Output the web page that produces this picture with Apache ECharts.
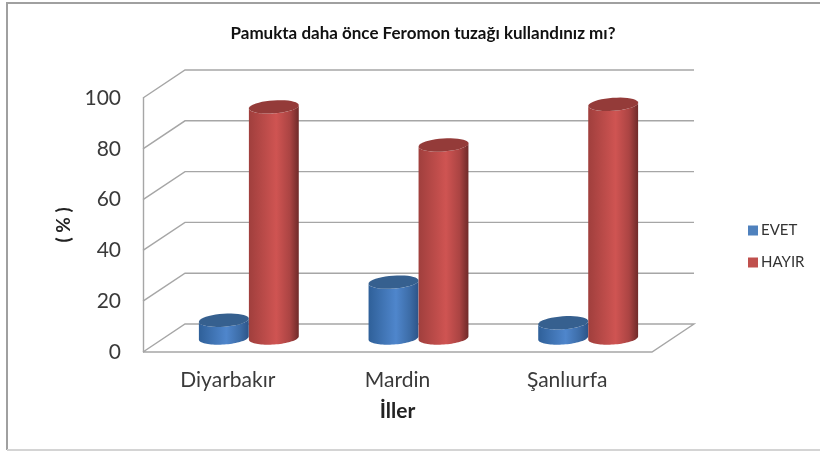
<!DOCTYPE html>
<html>
<head>
<meta charset="utf-8">
<title>Pamukta daha önce Feromon tuzağı kullandınız mı?</title>
<script src="https://cdn.jsdelivr.net/npm/echarts@6/dist/echarts.min.js"></script>
<style>
  html, body { margin: 0; padding: 0; background: #fff; }
  /* the reference is a soft, upscaled screenshot */
  #chart { width: 820px; height: 453px; filter: blur(0.4px); }
</style>
</head>
<body>
<div id="chart"></div>
<script>
const categories = ['Diyarbakır', 'Mardin', 'Şanlıurfa'];
const evetValues = [7, 22, 6];
const hayirValues = [91, 76, 92];
const yTicks = [0, 20, 40, 60, 80, 100];

// 3D look: how far the back wall is pushed from the front plane
const DEPTH_X = 42;
const DEPTH_Y = -28;
const RADIUS = 25;
const RIM = 6.5;
const TILT = -4 * Math.PI / 180;

const chart = echarts.init(document.getElementById('chart'));

// points along a slightly tilted ellipse, from/to in radians
function arcPoints(cx, cy, rx, ry, from, to) {
  const pts = [];
  for (let i = 0; i <= 40; i++) {
    const t = from + (to - from) * i / 40;
    const px = rx * Math.cos(t);
    const py = ry * Math.sin(t);
    pts.push([
      cx + px * Math.cos(TILT) - py * Math.sin(TILT),
      cy + px * Math.sin(TILT) + py * Math.cos(TILT)
    ]);
  }
  return pts;
}

function sideGradient(stops) {
  return new echarts.graphic.LinearGradient(0, 0, 1, 0, stops);
}

function cylinderSeries(name, values, shift, colors) {
  return {
    name,
    type: 'custom',
    data: values.map((v, i) => [i, v]),
    encode: { x: 0, y: 1 },
    itemStyle: { color: colors.legend },
    z: 5,
    renderItem(params, api) {
      const top = api.coord([api.value(0), api.value(1)]);
      const base = api.coord([api.value(0), 0]);
      const cx = top[0] + DEPTH_X / 2 + shift;
      const yTop = top[1] + DEPTH_Y / 2;
      const yBase = base[1] + DEPTH_Y / 2;
      // side wall: upper half of the top rim joined to lower half of the base rim
      const side = arcPoints(cx, yBase, RADIUS, RIM, 0, Math.PI)
        .concat(arcPoints(cx, yTop, RADIUS, RIM, Math.PI, 0));
      return {
        type: 'group',
        children: [
          {
            type: 'polygon',
            shape: { points: side },
            style: {
              fill: sideGradient([
                { offset: 0, color: colors.edgeL },
                { offset: 0.55, color: colors.mid },
                { offset: 0.82, color: colors.shade },
                { offset: 1, color: colors.edgeR }
              ])
            }
          },
          {
            type: 'polygon',
            shape: { points: arcPoints(cx, yTop, RADIUS, RIM, 0, Math.PI * 2) },
            style: { fill: colors.top }
          }
        ]
      };
    }
  };
}

const blue = { legend: '#4f81bd', edgeL: '#2f6099', mid: '#4f86cc', shade: '#3d6da8', edgeR: '#2d5488', top: '#36608f' };
const red = { legend: '#c0504d', edgeL: '#a03f3d', mid: '#cf5452', shade: '#ab4443', edgeR: '#6f2a29', top: '#943b39' };

const wallSeries = {
  type: 'custom',
  silent: true,
  data: yTicks.map(t => [0, t]),
  encode: { x: 0, y: 1 },
  z: 1,
  renderItem(params, api) {
    const sys = params.coordSys;
    const y = api.coord([0, api.value(1)])[1];
    const left = sys.x;
    const right = sys.x + sys.width;
    const line = { stroke: '#a6a6a6', lineWidth: 1.4, fill: 'none' };
    const pts = [[left, y], [left + DEPTH_X, y + DEPTH_Y], [right + DEPTH_X, y + DEPTH_Y]];
    if (api.value(1) === 0) pts.push([right, y], [left, y]);
    return { type: 'polyline', shape: { points: pts }, style: line };
  }
};

chart.setOption({
  animation: false,
  backgroundColor: '#fff',
  textStyle: { fontFamily: 'Lato' },
  title: {
    text: 'Pamukta daha önce Feromon tuzağı kullandınız mı?',
    left: 418,
    top: 20,
    textAlign: 'center',
    textStyle: { fontFamily: 'Lato', fontSize: 17, fontWeight: 'bold', color: '#111' }
  },
  legend: {
    orient: 'vertical',
    left: 743,
    top: 218,
    itemWidth: 10,
    itemHeight: 10,
    itemGap: 17,
    icon: 'rect',
    textStyle: { fontFamily: 'Lato', fontSize: 15, color: '#333', padding: [0, 0, 0, -2] },
    data: ['EVET', 'HAYIR']
  },
  grid: { left: 143, top: 98, width: 509, height: 254 },
  xAxis: {
    type: 'category',
    data: categories,
    name: 'İller',
    nameLocation: 'middle',
    nameGap: 49,
    nameTextStyle: { fontFamily: 'Lato', fontSize: 21, fontWeight: 'bold', color: '#222' },
    axisLine: { show: false },
    axisTick: { show: false },
    axisLabel: { fontFamily: 'Lato', fontSize: 21, color: '#3a3a3a', margin: 18 }
  },
  yAxis: {
    type: 'value',
    min: 0,
    max: 100,
    interval: 20,
    name: '( % )',
    nameLocation: 'middle',
    nameGap: 65,
    nameRotate: 90,
    nameTextStyle: { fontFamily: 'Lato', fontSize: 19, fontWeight: 'bold', color: '#222' },
    axisLine: { show: true, lineStyle: { color: '#a6a6a6', width: 1.4 } },
    axisTick: { show: false },
    splitLine: { show: false },
    axisLabel: { fontFamily: 'Lato', fontSize: 21, color: '#3a3a3a', margin: 22 }
  },
  graphic: [
    {
      type: 'polyline',
      silent: true,
      shape: { points: [[820, 3], [7, 3], [7, 450]] },
      style: { stroke: '#a0a0a0', lineWidth: 2, fill: 'none' }
    },
    {
      type: 'line',
      silent: true,
      shape: { x1: 7, y1: 450, x2: 820, y2: 450 },
      style: { stroke: '#d4d4d4', lineWidth: 2 }
    }
  ],
  series: [
    wallSeries,
    cylinderSeries('EVET', evetValues, -25, blue),
    cylinderSeries('HAYIR', hayirValues, 25, red)
  ]
});
</script>
</body>
</html>
